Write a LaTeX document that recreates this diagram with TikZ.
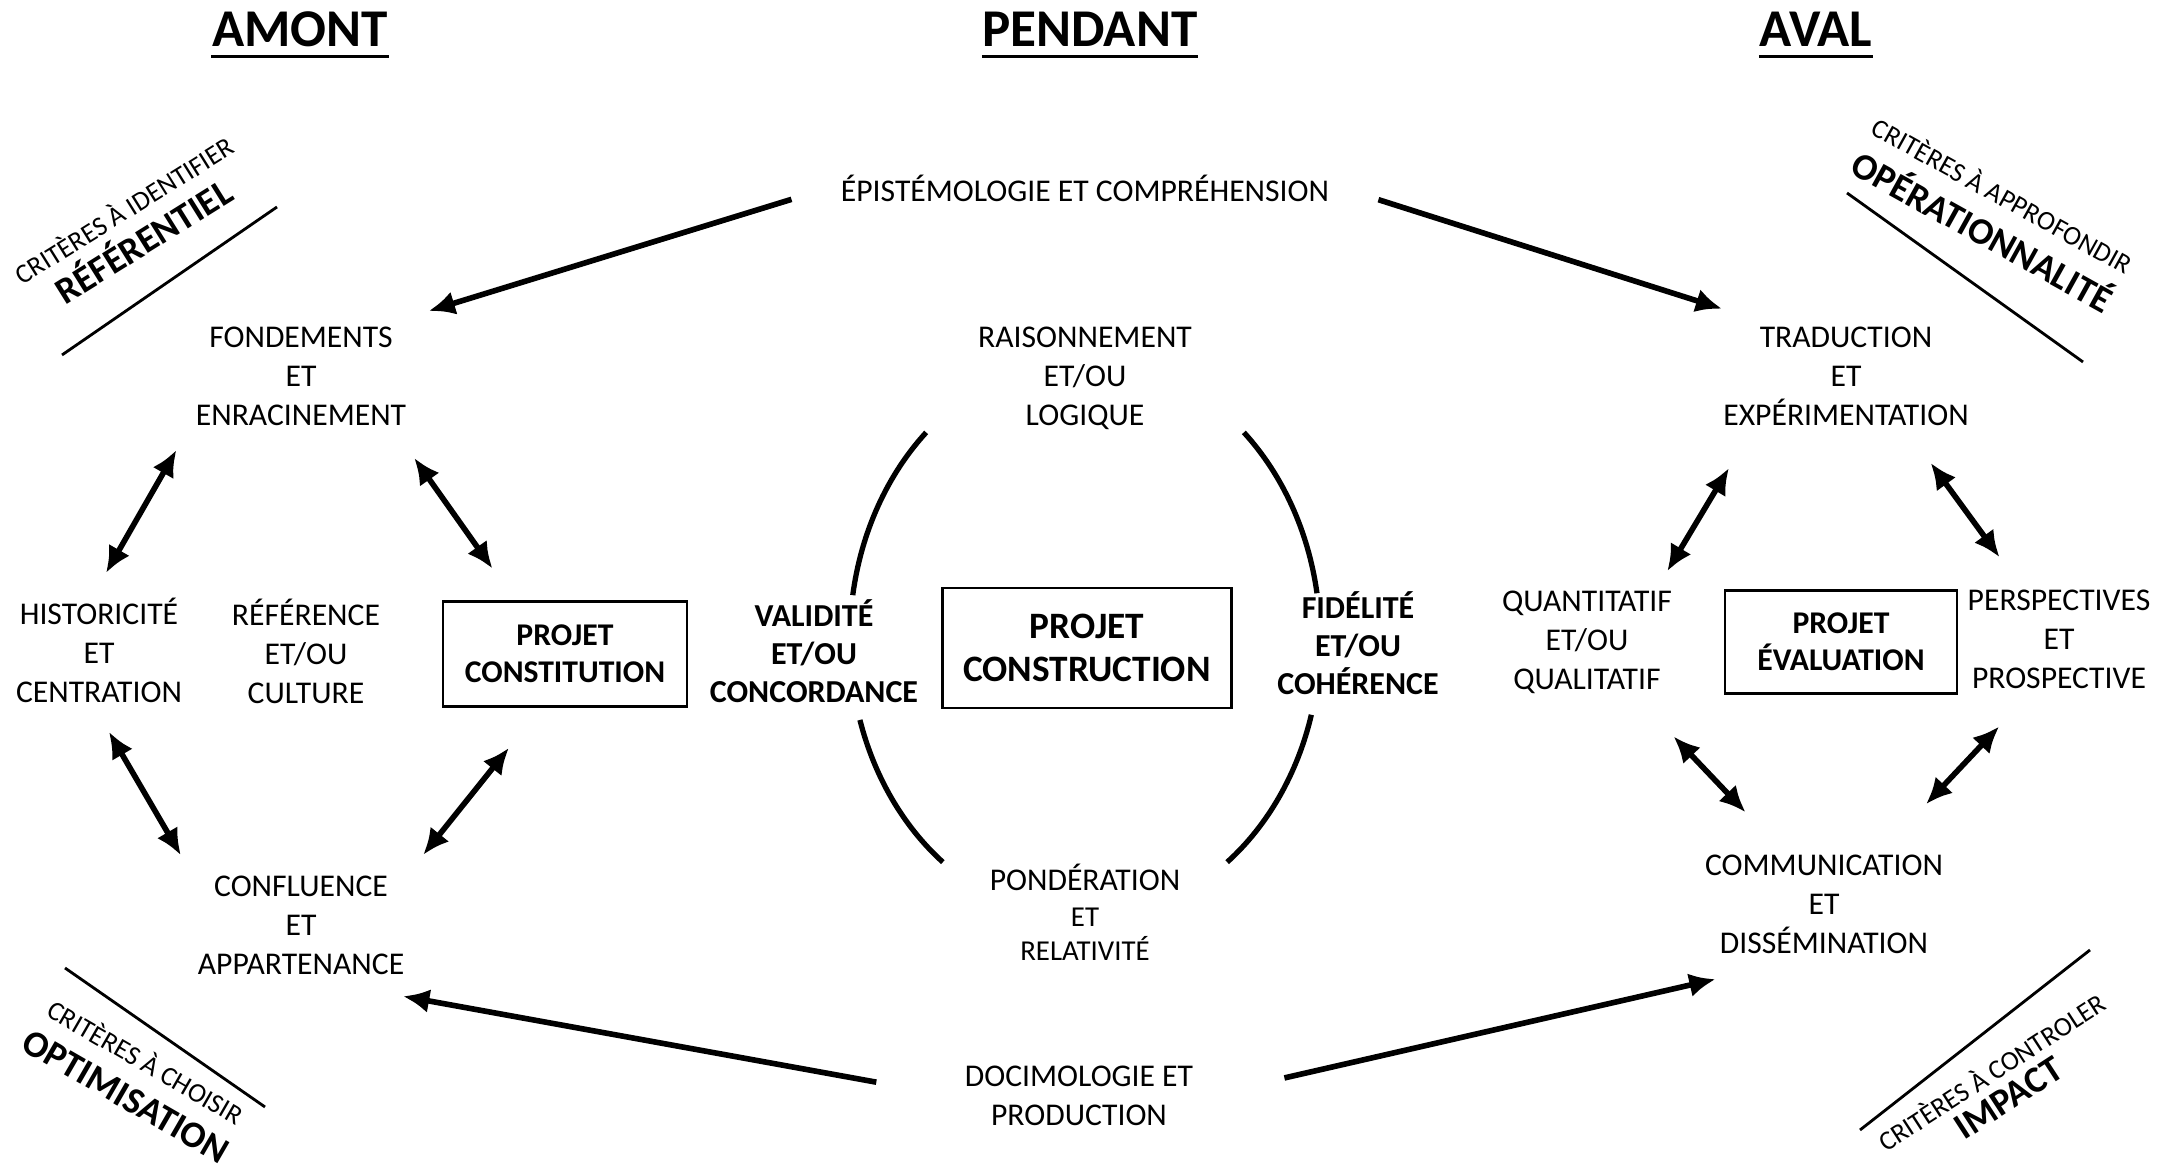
\documentclass[tikz,border=0pt]{standalone}
\usepackage{fontspec}
\setmainfont{Carlito}
\usetikzlibrary{arrows.meta}

\newcommand\gros{\fontsize{10.6}{12}\selectfont\bfseries}

\begin{document}
\begin{tikzpicture}[
        x=0.01cm, y=0.01cm, % une unité = un pixel de l'image
        txt/.style = {align=center, font=\fontsize{9}{11.1}\selectfont}, % texte courant
        gras/.style = {align=center, font=\fontsize{9.1}{10.8}\selectfont\bfseries}, % critères du centre
        projet/.style = {draw, line width=0.7pt, align=center, font=\fontsize{9}{10.6}\selectfont\bfseries}, % cadres
        titre/.style = {inner sep=0pt, font=\fontsize{15.1}{17}\selectfont\bfseries},
        coin/.style = {align=center, inner sep=1pt}, % critères des coins
        lien/.style = {{Latex[length=7.5pt,width=6.8pt]}-{Latex[length=7.5pt,width=6.8pt]}, line width=1.6pt}, % flèches doubles
        fleche/.style = {-{Latex[length=7.5pt,width=6.8pt]}, line width=1.6pt},
        trait/.style = {line width=0.8pt},
        arc/.style = {line width=1.5pt},
        souligne/.style = {line width=0.85pt},
    ]

    \useasboundingbox (0,0) rectangle (2164,1174);

    % titres
    \node[titre, anchor=base] (amont) at (300,1127) {AMONT};
    \node[titre, anchor=base] (pendant) at (1090,1127) {PENDANT};
    \node[titre, anchor=base] (aval) at (1816,1127) {AVAL};
    \draw[souligne] ([yshift=-2.6pt]amont.base west) -- ([yshift=-2.6pt]amont.base east);
    \draw[souligne] ([yshift=-2.6pt]pendant.base west) -- ([yshift=-2.6pt]pendant.base east);
    \draw[souligne] ([yshift=-2.6pt]aval.base west) -- ([yshift=-2.6pt]aval.base east);

    % amont
    \node[txt] (fond) at (301,798) {FONDEMENTS\\ET\\ENRACINEMENT};
    \node[txt] (hist) at (99,524) {HISTORICITÉ\\ET\\CENTRATION};
    \node[txt] (ref) at (306,523) {RÉFÉRENCE\\ET/OU\\CULTURE};
    \node[projet, minimum width=2.44cm, minimum height=1.05cm] (constit) at (565,520) {PROJET\\CONSTITUTION};
    \node[txt] (conf) at (301,249) {CONFLUENCE\\ET\\APPARTENANCE};

    % pendant
    \node[txt] (epist) at (1085,986) {ÉPISTÉMOLOGIE ET COMPRÉHENSION};
    \node[txt] (rais) at (1085,796) {RAISONNEMENT\\ET/OU\\LOGIQUE};
    \node[gras] (valid) at (814,523) {VALIDITÉ\\ET/OU\\CONCORDANCE};
    \node[projet, font=\fontsize{10.6}{12.2}\selectfont\bfseries,
          minimum width=2.89cm, minimum height=1.2cm] (constr) at (1087,526) {PROJET\\CONSTRUCTION};
    \node[gras] (fidel) at (1358,531) {FIDÉLITÉ\\ET/OU\\COHÉRENCE};
    \node[txt, font=\fontsize{8.2}{9.6}\selectfont] (pond) at (1085,262) {{\fontsize{9}{11}\selectfont PONDÉRATION}\\[0.8pt]ET\\RELATIVITÉ};
    \node[txt] (doci) at (1079,78) {DOCIMOLOGIE ET\\PRODUCTION};

    % aval
    \node[txt] (trad) at (1846,798) {TRADUCTION\\ET\\EXPÉRIMENTATION};
    \node[txt] (quant) at (1587,532) {QUANTITATIF\\ET/OU\\QUALITATIF};
    \node[projet, minimum width=2.32cm, minimum height=1.03cm] (eval) at (1841,532) {PROJET\\ÉVALUATION};
    \node[txt] (persp) at (2059,535) {PERSPECTIVES\\ET\\PROSPECTIVE};
    \node[txt] (comm) at (1824,270) {COMMUNICATION\\ET\\DISSÉMINATION};

    % grandes flèches
    \draw[fleche, shorten <=11pt, shorten >=3pt] (epist.west) -- (fond.north east);
    \draw[fleche, shorten <=11pt, shorten >=5pt] (epist.east) -- (trad.150);
    \draw[fleche, shorten <=22pt, shorten >=15pt] (doci.west) -- (conf.-51);
    \draw[fleche, shorten <=23pt, shorten >=17pt] (doci.east) -- (comm.231);

    % liens amont
    \draw[lien, shorten <=4pt, shorten >=4pt] (fond.south west) -- (hist.north);
    \draw[lien, shorten <=7pt, shorten >=11pt] (fond.-32) -- (constit.133);
    \draw[lien, shorten <=5.6pt, shorten >=2.6pt] (hist.south) -- (conf.north west);
    \draw[lien, shorten <=14.6pt, shorten >=3pt] (constit.246) -- (conf.north east);

    % liens aval
    \draw[lien, shorten <=10pt, shorten >=2.3pt] (trad.212) -- (quant.40);
    \draw[lien, shorten <=8.8pt, shorten >=7pt] (trad.-43) -- (persp.126);
    \draw[lien, shorten <=12pt, shorten >=11.7pt] (quant.-48) -- (comm.129);
    \draw[lien, shorten <=10pt, shorten >=14.8pt] (persp.240) -- (comm.43);

    % arcs autour du projet construction
    \coordinate (o) at (1085,535);
    \draw[arc] ([shift={(132.5:2.35cm and 2.8cm)}]o) arc[start angle=132.5, end angle=171, x radius=2.35cm, y radius=2.8cm];
    \draw[arc] ([shift={(196.8:2.35cm and 2.8cm)}]o) arc[start angle=196.8, end angle=232.8, x radius=2.35cm, y radius=2.8cm];
    \draw[arc] ([shift={(47.5:2.35cm and 2.8cm)}]o) arc[start angle=47.5, end angle=9.4, x radius=2.35cm, y radius=2.8cm];
    \draw[arc] ([shift={(-15.7:2.35cm and 2.8cm)}]o) arc[start angle=-15.7, end angle=-52.8, x radius=2.35cm, y radius=2.8cm];

    % critères des coins
    \draw[trait] (62,819) -- (277,967);
    \node[coin, rotate=32, font=\fontsize{7.7}{11.3}\selectfont] (referentiel) at (134,948)
        {CRITÈRES À IDENTIFIER\\{\gros RÉFÉRENTIEL}};

    \draw[trait] (1847,981) -- (2083,812);
    \node[coin, rotate=-29, font=\fontsize{7.7}{12.7}\selectfont] (operation) at (1992,960)
        {CRITÈRES À APPROFONDIR\\{\gros OPÉRATIONNALITÉ}};

    \draw[trait] (65,206) -- (265,67);
    \node[coin, rotate=-30, font=\fontsize{7.7}{11.9}\selectfont] (optimisation) at (136,95)
        {CRITÈRES À CHOISIR\\{\gros OPTIMISATION}};

    \draw[trait] (1860,44) -- (2090,224);
    \node[coin, rotate=33, font=\fontsize{7.7}{9.4}\selectfont] (impact) at (2000,89)
        {CRITÈRES À CONTROLER\\{\gros IMPACT}};
\end{tikzpicture}
\end{document}
